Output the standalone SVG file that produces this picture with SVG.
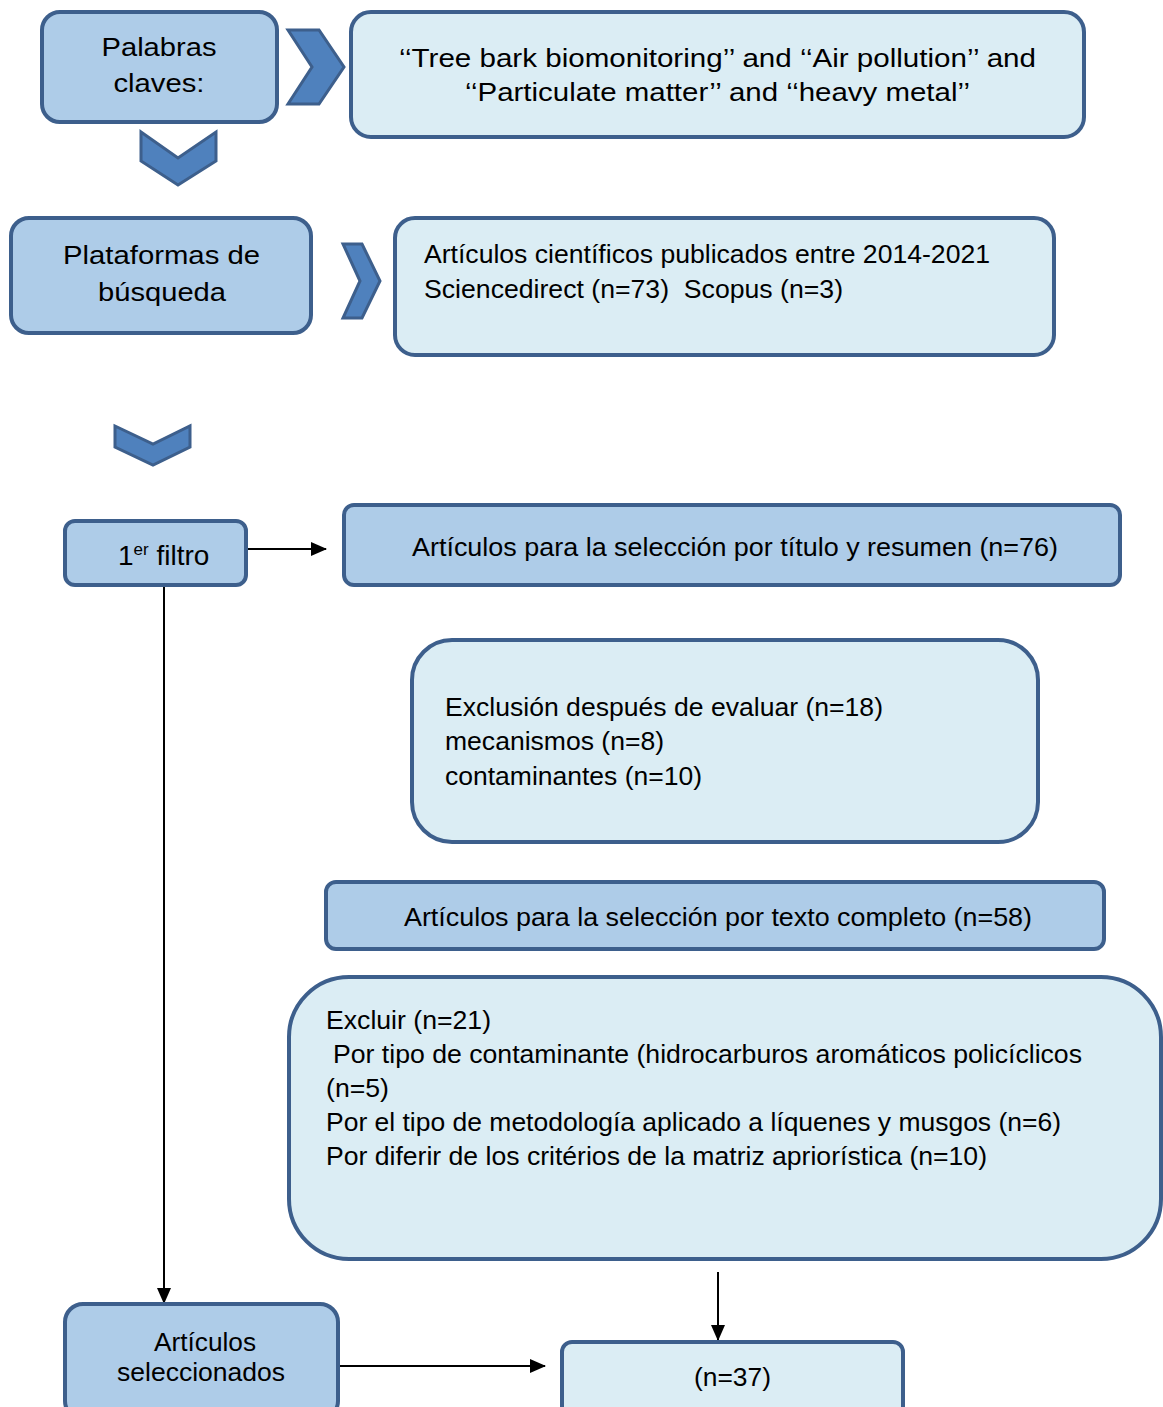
<svg xmlns="http://www.w3.org/2000/svg" width="1163" height="1407" viewBox="0 0 1163 1407">
<defs>
<style>
.dk{fill:#aecce8;stroke:#3d5f8c;stroke-width:4}
.lt{fill:#dbedf4;stroke:#3d5f8c;stroke-width:4}
.chev{fill:#4f81bd;stroke:#3d5f8c;stroke-width:3;stroke-linejoin:miter}
text{font-family:"Liberation Sans",Arial,sans-serif;font-size:25px;fill:#000}
.c{text-anchor:middle}
.ln{stroke:#000;stroke-width:2;fill:none}
</style>
<marker id="ah2" markerWidth="16" markerHeight="14" refX="15" refY="7" orient="auto" markerUnits="userSpaceOnUse" viewBox="0 0 16 14">
<path d="M0,0 L16,7 L0,14 Z" fill="#000"/>
</marker>
</defs>
<rect width="1163" height="1407" fill="#fff"/>

<g id="connectors">
<path class="ln" d="M246,549 L326,549" marker-end="url(#ah2)"/>
<path class="ln" d="M164,585 L164,1303" marker-end="url(#ah2)"/>
<path class="ln" d="M718,1272 L718,1340" marker-end="url(#ah2)"/>
<path class="ln" d="M338,1366 L545,1366" marker-end="url(#ah2)"/>
<polygon class="chev" points="288,30 319,30 344,67 319,104 288,104 312,67"/>
<polygon class="chev" points="141,132 178,158 216,132 216,161 178,185 141,161"/>
<polygon class="chev" points="343,244 362,244 380,281 362,318 343,318 360,281"/>
<polygon class="chev" points="115,426 153,444 190,426 190,447 153,465 115,447"/>
</g>

<g id="n-palabras">
<rect class="dk" x="42" y="12" width="235" height="110" rx="18"/>
<text class="c" x="159" y="56" textLength="115" lengthAdjust="spacingAndGlyphs">Palabras</text>
<text class="c" x="159" y="92" textLength="91" lengthAdjust="spacingAndGlyphs">claves:</text>
</g>

<g id="n-keywords">
<rect class="lt" x="351" y="12" width="733" height="125" rx="20"/>
<text class="c" x="717.5" y="67" textLength="637" lengthAdjust="spacingAndGlyphs">‘‘Tree bark biomonitoring’’ and ‘‘Air pollution’’ and</text>
<text class="c" x="717.5" y="101" textLength="505" lengthAdjust="spacingAndGlyphs">‘‘Particulate matter’’ and ‘‘heavy metal’’</text>
</g>

<g id="n-plataformas">
<rect class="dk" x="11" y="218" width="300" height="115" rx="18"/>
<text class="c" x="161.5" y="264" textLength="197" lengthAdjust="spacingAndGlyphs">Plataformas de</text>
<text class="c" x="162" y="301" textLength="128" lengthAdjust="spacingAndGlyphs">búsqueda</text>
</g>

<g id="n-articulos">
<rect class="lt" x="395" y="218" width="659" height="137" rx="20"/>
<text x="424" y="263" textLength="566" lengthAdjust="spacingAndGlyphs">Artículos científicos publicados entre 2014-2021</text>
<text x="424" y="298" textLength="419" lengthAdjust="spacingAndGlyphs" xml:space="preserve">Sciencedirect (n=73)  Scopus (n=3)</text>
</g>

<g id="n-filtro">
<rect class="dk" x="65" y="521" width="181" height="64" rx="10"/>
<text x="118" y="565" style="font-size:28px">1<tspan style="font-size:17px" dy="-10">er</tspan><tspan dy="10"> filtro</tspan></text>
</g>

<g id="n-titulo">
<rect class="dk" x="344" y="505" width="776" height="80" rx="10"/>
<text class="c" x="735" y="556" textLength="646" lengthAdjust="spacingAndGlyphs">Artículos para la selección por título y resumen (n=76)</text>
</g>

<g id="n-exclusion">
<rect class="lt" x="412" y="640" width="626" height="202" rx="40"/>
<text x="445" y="716" textLength="438" lengthAdjust="spacingAndGlyphs">Exclusión después de evaluar (n=18)</text>
<text x="445" y="750" textLength="219" lengthAdjust="spacingAndGlyphs">mecanismos (n=8)</text>
<text x="445" y="785" textLength="257" lengthAdjust="spacingAndGlyphs">contaminantes (n=10)</text>
</g>

<g id="n-texto">
<rect class="dk" x="326" y="882" width="778" height="67" rx="10"/>
<text class="c" x="718" y="926" textLength="628" lengthAdjust="spacingAndGlyphs">Artículos para la selección por texto completo (n=58)</text>
</g>

<g id="n-excluir">
<rect class="lt" x="289" y="977" width="872" height="282" rx="60"/>
<text x="326" y="1029" textLength="165" lengthAdjust="spacingAndGlyphs">Excluir (n=21)</text>
<text x="333" y="1063" textLength="749" lengthAdjust="spacingAndGlyphs">Por tipo de contaminante (hidrocarburos aromáticos policíclicos</text>
<text x="326" y="1097" textLength="63" lengthAdjust="spacingAndGlyphs">(n=5)</text>
<text x="326" y="1131" textLength="735" lengthAdjust="spacingAndGlyphs">Por el tipo de metodología aplicado a líquenes y musgos (n=6)</text>
<text x="326" y="1165" textLength="661" lengthAdjust="spacingAndGlyphs">Por diferir de los critérios de la matriz apriorística (n=10)</text>
</g>

<g id="n-seleccionados">
<rect class="dk" x="65" y="1304" width="273" height="115" rx="18"/>
<text class="c" x="205" y="1351" textLength="102" lengthAdjust="spacingAndGlyphs">Artículos</text>
<text class="c" x="201" y="1381" textLength="168" lengthAdjust="spacingAndGlyphs">seleccionados</text>
</g>

<g id="n-final">
<rect class="lt" x="562" y="1342" width="341" height="80" rx="10"/>
<text class="c" x="732.5" y="1386" textLength="77" lengthAdjust="spacingAndGlyphs">(n=37)</text>
</g>
</svg>
